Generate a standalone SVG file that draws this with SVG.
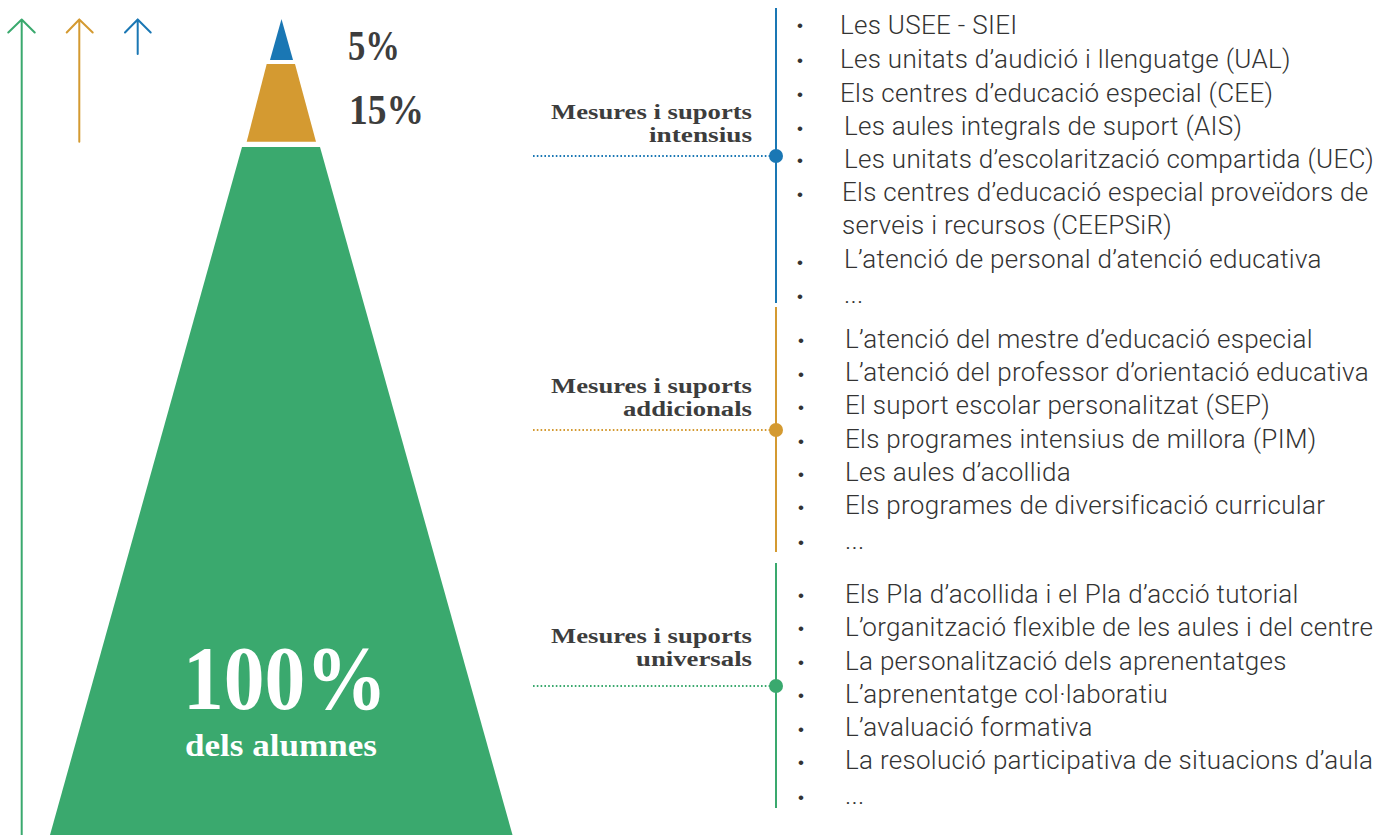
<svg xmlns="http://www.w3.org/2000/svg" width="1379" height="835" viewBox="0 0 1379 835">
<defs>
<style>
.lbl{font-family:"Liberation Serif","DejaVu Serif",serif;font-weight:bold;font-size:20px;fill:#3d3d3d;text-anchor:end}
.pct{font-family:"Liberation Serif","DejaVu Serif",serif;font-weight:bold;fill:#3d3d3d}
.big{font-family:"Liberation Serif","DejaVu Serif",serif;font-weight:bold;fill:#ffffff}
.li{font-family:Roboto,"Liberation Sans",sans-serif;font-weight:300;font-size:26px;letter-spacing:0.3px;fill:#333333}
.bu{font-family:"Liberation Sans",sans-serif;font-size:17px;fill:#333333;text-anchor:middle}
.ar{fill:none;stroke-width:2;stroke-linecap:round;stroke-linejoin:round}
.dot{fill:none;stroke-width:2;stroke-dasharray:1.6 2.2}
</style>
</defs>
<rect width="1379" height="835" fill="#ffffff"/>

<g id="arrows">
<path class="ar" stroke="#3aa96e" d="M21.7 835V19.5M8.3 32.5L21.7 19.5L34.7 32.5"/>
<path class="ar" stroke="#d49a31" d="M79.3 141.7V19.5M66.7 32.5L79.3 19.5L92.7 32.5"/>
<path class="ar" stroke="#1a77b4" d="M137.7 54V19.5M125 32.5L137.7 19.5L150.7 32.5"/>
</g>

<g id="pyramid-5">
<polygon points="281.5,19 293,60 270,60" fill="#1a77b4"/>
<text class="pct" x="348" y="60" font-size="43" textLength="52" lengthAdjust="spacingAndGlyphs">5%</text>
</g>
<g id="pyramid-15">
<polygon points="266.7,64 295,64 316,141.7 246.7,141.7" fill="#d49a31"/>
<text class="pct" x="349" y="124" font-size="43" textLength="75" lengthAdjust="spacingAndGlyphs">15%</text>
</g>
<g id="pyramid-100">
<polygon points="242,147 320,147 512.5,835 50,835" fill="#3aa96e"/>
<text class="big" x="183" y="709" font-size="90" textLength="204" lengthAdjust="spacingAndGlyphs">100%</text>
<text class="big" x="185" y="756" font-size="31" textLength="192" lengthAdjust="spacingAndGlyphs">dels alumnes</text>
</g>

<g id="connectors">
<line x1="776" y1="8" x2="776" y2="303" stroke="#1a77b4" stroke-width="2"/>
<line x1="776" y1="307" x2="776" y2="552" stroke="#d49a31" stroke-width="2"/>
<line x1="776" y1="563" x2="776" y2="808" stroke="#3aa96e" stroke-width="2"/>
<line class="dot" x1="533" y1="156" x2="770" y2="156" stroke="#1a77b4"/>
<line class="dot" x1="533" y1="430" x2="770" y2="430" stroke="#d49a31"/>
<line class="dot" x1="533" y1="686" x2="770" y2="686" stroke="#3aa96e"/>
<circle cx="776" cy="156" r="7" fill="#1a77b4"/>
<circle cx="776" cy="430" r="7" fill="#d49a31"/>
<circle cx="776" cy="686" r="7" fill="#3aa96e"/>
</g>

<g id="label-intensius">
<text class="lbl" x="752" y="119" textLength="201" lengthAdjust="spacingAndGlyphs">Mesures i suports</text>
<text class="lbl" x="752" y="142" textLength="103" lengthAdjust="spacingAndGlyphs">intensius</text>
</g>
<g id="label-addicionals">
<text class="lbl" x="752" y="393" textLength="201" lengthAdjust="spacingAndGlyphs">Mesures i suports</text>
<text class="lbl" x="752" y="416" textLength="129" lengthAdjust="spacingAndGlyphs">addicionals</text>
</g>
<g id="label-universals">
<text class="lbl" x="752" y="643" textLength="201" lengthAdjust="spacingAndGlyphs">Mesures i suports</text>
<text class="lbl" x="752" y="666" textLength="116" lengthAdjust="spacingAndGlyphs">universals</text>
</g>

<g id="list-intensius">
<text class="bu" x="800" y="31">•</text><text class="li" x="840" y="34">Les USEE - SIEI</text>
<text class="bu" x="800" y="66">•</text><text class="li" x="840" y="68">Les unitats d’audició i llenguatge (UAL)</text>
<text class="bu" x="800" y="100">•</text><text class="li" x="840" y="102">Els centres d’educació especial (CEE)</text>
<text class="bu" x="800" y="134">•</text><text class="li" x="844" y="135">Les aules integrals de suport (AIS)</text>
<text class="bu" x="800" y="166">•</text><text class="li" x="844" y="168">Les unitats d’escolarització compartida (UEC)</text>
<text class="bu" x="800" y="200">•</text><text class="li" x="842" y="201">Els centres d’educació especial proveïdors de</text>
<text class="li" x="842" y="234">serveis i recursos (CEEPSiR)</text>
<text class="bu" x="800" y="268">•</text><text class="li" x="844" y="268">L’atenció de personal d’atenció educativa</text>
<text class="bu" x="800" y="302">•</text><text class="li" x="844" y="303">...</text>
</g>

<g id="list-addicionals">
<text class="bu" x="801" y="346">•</text><text class="li" x="845" y="348">L’atenció del mestre d’educació especial</text>
<text class="bu" x="801" y="380">•</text><text class="li" x="845" y="381">L’atenció del professor d’orientació educativa</text>
<text class="bu" x="801" y="413">•</text><text class="li" x="845" y="414">El suport escolar personalitzat (SEP)</text>
<text class="bu" x="801" y="447">•</text><text class="li" x="845" y="448">Els programes intensius de millora (PIM)</text>
<text class="bu" x="801" y="480">•</text><text class="li" x="845" y="481">Les aules d’acollida</text>
<text class="bu" x="801" y="513">•</text><text class="li" x="845" y="514">Els programes de diversificació curricular</text>
<text class="bu" x="801" y="548">•</text><text class="li" x="845" y="549">...</text>
</g>

<g id="list-universals">
<text class="bu" x="801" y="601">•</text><text class="li" x="845" y="603">Els Pla d’acollida i el Pla d’acció tutorial</text>
<text class="bu" x="801" y="634">•</text><text class="li" x="845" y="636">L’organització flexible de les aules i del centre</text>
<text class="bu" x="801" y="668">•</text><text class="li" x="845" y="670">La personalització dels aprenentatges</text>
<text class="bu" x="801" y="701">•</text><text class="li" x="845" y="703">L’aprenentatge col·laboratiu</text>
<text class="bu" x="801" y="735">•</text><text class="li" x="845" y="736">L’avaluació formativa</text>
<text class="bu" x="801" y="768">•</text><text class="li" x="845" y="769">La resolució participativa de situacions d’aula</text>
<text class="bu" x="801" y="803">•</text><text class="li" x="845" y="804">...</text>
</g>
</svg>
